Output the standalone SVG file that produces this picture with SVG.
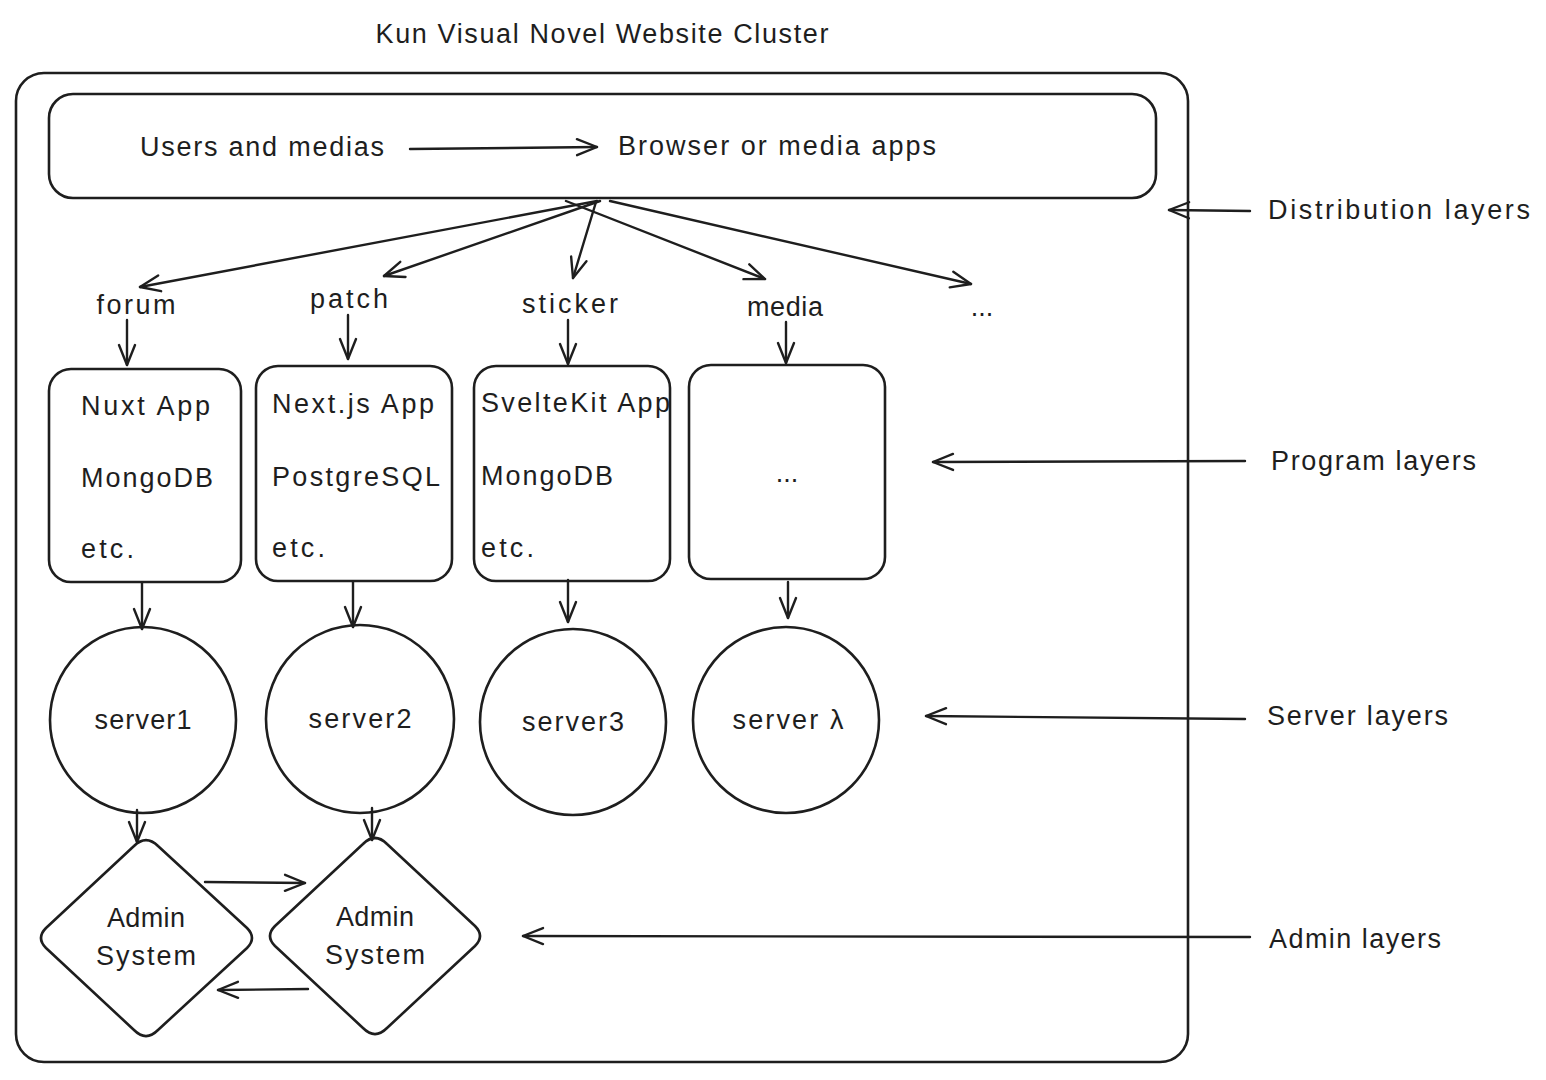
<svg xmlns="http://www.w3.org/2000/svg" width="1546" height="1080" viewBox="0 0 1546 1080">
  <defs>
    <marker id="head" viewBox="0 0 24 20" refX="22" refY="10" markerWidth="24" markerHeight="20" markerUnits="userSpaceOnUse" orient="auto">
      <path d="M2,2 L22,10 L2,18" fill="none" stroke="#1e1e1e" stroke-width="2.4" stroke-linecap="round" stroke-linejoin="round"/>
    </marker>
  </defs>
  <style>
    .bg { fill: #ffffff; }
    .shape { fill: none; stroke: #1e1e1e; stroke-width: 2.6; stroke-linejoin: round; }
    .edge { fill: none; stroke: #1e1e1e; stroke-width: 2.4; stroke-linecap: round; marker-end: url(#head); }
    .t { font-family: "Liberation Sans", Arial, sans-serif; fill: #1e1e1e; font-size: 27px; }
    .mid { text-anchor: middle; }
  </style>

  <rect class="bg" x="0" y="0" width="1546" height="1080"/>

  <!-- title -->
  <text class="t mid" x="602" y="43" font-size="25" textLength="453" lengthAdjust="spacing">Kun Visual Novel Website Cluster</text>

  <!-- cluster frame -->
  <g id="cluster">
    <rect class="shape" x="16" y="73" width="1172" height="989" rx="28"/>
  </g>

  <!-- distribution layer -->
  <g id="distribution">
    <rect class="shape" x="49" y="94" width="1107" height="104" rx="24"/>
    <text class="t" x="140" y="156" textLength="244" lengthAdjust="spacing">Users and medias</text>
    <text class="t" x="618" y="155" textLength="318" lengthAdjust="spacing">Browser or media apps</text>
  </g>

  <!-- route labels -->
  <g id="route-forum"><text class="t mid" x="136" y="314" textLength="79" lengthAdjust="spacing">forum</text></g>
  <g id="route-patch"><text class="t mid" x="349" y="308" textLength="78" lengthAdjust="spacing">patch</text></g>
  <g id="route-sticker"><text class="t mid" x="570" y="313" textLength="96" lengthAdjust="spacing">sticker</text></g>
  <g id="route-media"><text class="t mid" x="785" y="316" textLength="76" lengthAdjust="spacing">media</text></g>
  <g id="route-more"><text class="t mid" x="982" y="316">...</text></g>

  <!-- program layer -->
  <g id="app-nuxt">
    <rect class="shape" x="49" y="369" width="192" height="213" rx="22"/>
    <text class="t" x="81" y="415" textLength="129" lengthAdjust="spacing">Nuxt App</text>
    <text class="t" x="81" y="487" textLength="132" lengthAdjust="spacing">MongoDB</text>
    <text class="t" x="81" y="558" textLength="53" lengthAdjust="spacing">etc.</text>
  </g>
  <g id="app-next">
    <rect class="shape" x="256" y="366" width="196" height="215" rx="22"/>
    <text class="t" x="272" y="413" textLength="162" lengthAdjust="spacing">Next.js App</text>
    <text class="t" x="272" y="486" textLength="168" lengthAdjust="spacing">PostgreSQL</text>
    <text class="t" x="272" y="557" textLength="53" lengthAdjust="spacing">etc.</text>
  </g>
  <g id="app-svelte">
    <rect class="shape" x="474" y="366" width="196" height="215" rx="22"/>
    <text class="t" x="481" y="412" textLength="189" lengthAdjust="spacing">SvelteKit App</text>
    <text class="t" x="481" y="485" textLength="132" lengthAdjust="spacing">MongoDB</text>
    <text class="t" x="481" y="557" textLength="53" lengthAdjust="spacing">etc.</text>
  </g>
  <g id="app-more">
    <rect class="shape" x="689" y="365" width="196" height="214" rx="22"/>
    <text class="t mid" x="787" y="482">...</text>
  </g>

  <!-- server layer -->
  <g id="server1">
    <circle class="shape" cx="143" cy="720" r="93"/>
    <text class="t mid" x="143" y="729" textLength="97" lengthAdjust="spacing">server1</text>
  </g>
  <g id="server2">
    <circle class="shape" cx="360" cy="719" r="94"/>
    <text class="t mid" x="360" y="728" textLength="103" lengthAdjust="spacing">server2</text>
  </g>
  <g id="server3">
    <circle class="shape" cx="573" cy="722" r="93"/>
    <text class="t mid" x="573" y="731" textLength="102" lengthAdjust="spacing">server3</text>
  </g>
  <g id="server-lambda">
    <circle class="shape" cx="786" cy="720" r="93"/>
    <text class="t mid" x="788" y="729" textLength="111" lengthAdjust="spacing">server λ</text>
  </g>

  <!-- admin layer -->
  <g id="admin1">
    <path class="shape" d="M134,846 Q146,834 158,846 L247,928 Q257,938 247,948 L158,1030 Q146,1042 134,1030 L46,948 Q36,938 46,928 Z"/>
    <text class="t mid" x="146" y="927" textLength="78" lengthAdjust="spacing">Admin</text>
    <text class="t mid" x="146" y="965" textLength="100" lengthAdjust="spacing">System</text>
  </g>
  <g id="admin2">
    <path class="shape" d="M363,844 Q375,832 387,844 L475,926 Q485,936 475,946 L387,1028 Q375,1040 363,1028 L275,946 Q265,936 275,926 Z"/>
    <text class="t mid" x="375" y="926" textLength="78" lengthAdjust="spacing">Admin</text>
    <text class="t mid" x="375" y="964" textLength="100" lengthAdjust="spacing">System</text>
  </g>

  <!-- layer captions -->
  <g id="caption-distribution"><text class="t" x="1268" y="219" textLength="262" lengthAdjust="spacing">Distribution layers</text></g>
  <g id="caption-program"><text class="t" x="1271" y="470" textLength="205" lengthAdjust="spacing">Program layers</text></g>
  <g id="caption-server"><text class="t" x="1267" y="725" textLength="181" lengthAdjust="spacing">Server layers</text></g>
  <g id="caption-admin"><text class="t" x="1269" y="948" textLength="172" lengthAdjust="spacing">Admin layers</text></g>

  <!-- connectors -->
  <g id="connectors">
    <path class="edge" d="M410,149 L597,147"/>
    <path class="edge" d="M597,201 L140,287"/>
    <path class="edge" d="M600,201 L384,276"/>
    <path class="edge" d="M596,202 L573,278"/>
    <path class="edge" d="M566,201 L765,279"/>
    <path class="edge" d="M610,201 L971,284"/>

    <path class="edge" d="M127,320 L127,365"/>
    <path class="edge" d="M348,315 L348,359"/>
    <path class="edge" d="M568,320 L568,364"/>
    <path class="edge" d="M786,322 L786,363"/>

    <path class="edge" d="M142,583 L142,629"/>
    <path class="edge" d="M353,582 L353,627"/>
    <path class="edge" d="M568,580 L568,622"/>
    <path class="edge" d="M788,582 L788,618"/>

    <path class="edge" d="M137,810 L137,842"/>
    <path class="edge" d="M372,808 L372,840"/>

    <path class="edge" d="M205,882 L305,883"/>
    <path class="edge" d="M308,989 L218,990"/>

    <path class="edge" d="M1250,211 L1169,210"/>
    <path class="edge" d="M1245,461 L933,462"/>
    <path class="edge" d="M1245,719 L926,716"/>
    <path class="edge" d="M1250,937 L523,936"/>
  </g>
</svg>
